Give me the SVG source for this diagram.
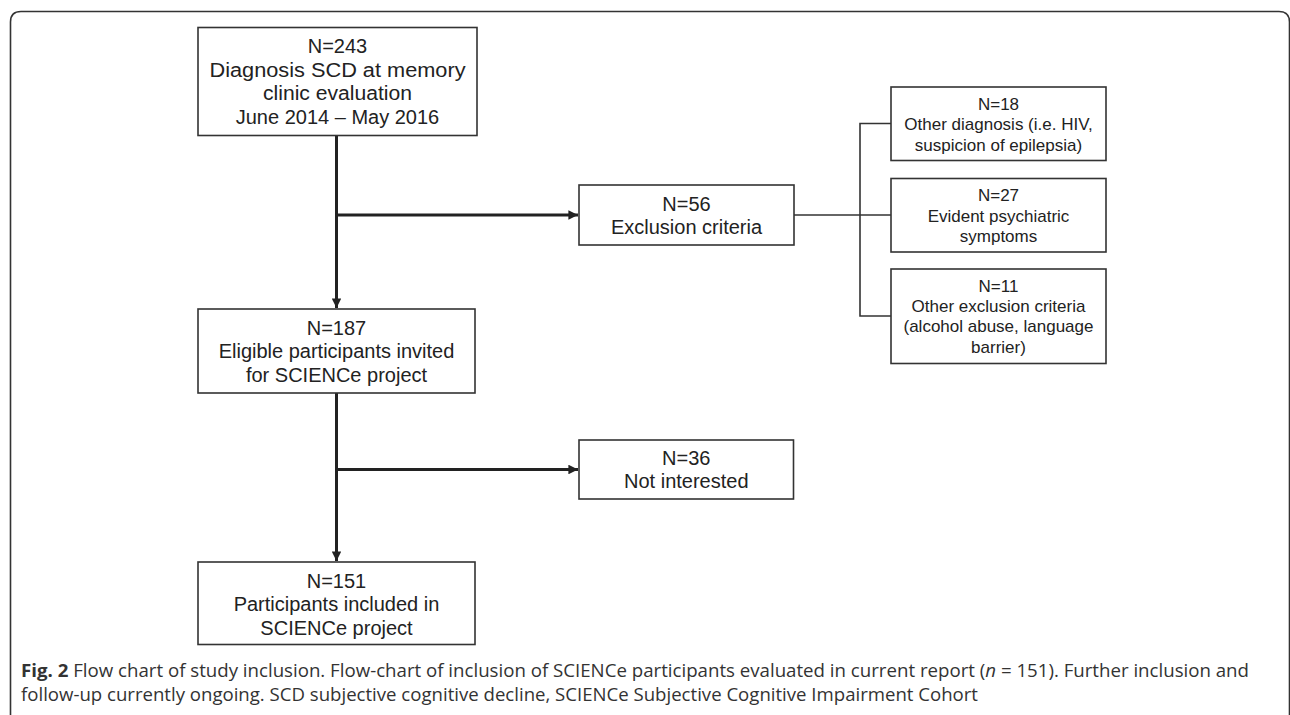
<svg xmlns="http://www.w3.org/2000/svg" width="1290" height="715" viewBox="0 0 1290 715">
<style>
.box{fill:#fff;stroke:#333;stroke-width:1.6}
.t{font-family:"Liberation Sans",Arial,sans-serif;font-size:20px;fill:#222;text-anchor:middle}
.s{font-family:"Liberation Sans",Arial,sans-serif;font-size:17px;fill:#222;text-anchor:middle}
.main{stroke:#222;stroke-width:3;fill:none}
.thin{stroke:#333;stroke-width:1.6;fill:none}
.cap{font-family:"Open Sans","Noto Sans",sans-serif;font-size:18.6px;fill:#333}
</style>
<defs>
<marker id="arr" viewBox="0 0 10 10" refX="10" refY="5" markerWidth="3.2" markerHeight="3.2" orient="auto" markerUnits="strokeWidth">
<path d="M0,0 L10,5 L0,10 z" fill="#222"/>
</marker>
</defs>
<rect width="1290" height="715" fill="#fff"/>
<path d="M10.5,715 V22 Q10.5,11.5 21,11.5 H1279 Q1289.5,11.5 1289.5,22 V715" fill="none" stroke="#333" stroke-width="1.6"/>

<g id="connectors">
<line class="main" x1="336.5" y1="136" x2="336.5" y2="308" marker-end="url(#arr)"/>
<line class="main" x1="336.5" y1="215" x2="578" y2="215" marker-end="url(#arr)"/>
<line class="main" x1="336.5" y1="393" x2="336.5" y2="561" marker-end="url(#arr)"/>
<line class="main" x1="336.5" y1="469.5" x2="578" y2="469.5" marker-end="url(#arr)"/>
<line class="thin" x1="794" y1="215" x2="891" y2="215"/>
<path class="thin" d="M891,123.5 H860 V316 H891"/>
</g>

<g id="n243">
<rect class="box" x="198" y="27.5" width="279" height="108"/>
<text class="t" x="337.5" y="53">N=243</text>
<text class="t" x="337.5" y="77" textLength="256" lengthAdjust="spacingAndGlyphs">Diagnosis SCD at memory</text>
<text class="t" x="337.5" y="100" textLength="149" lengthAdjust="spacingAndGlyphs">clinic evaluation</text>
<text class="t" x="337.5" y="124">June 2014 – May 2016</text>
</g>

<g id="n56">
<rect class="box" x="579" y="185" width="215" height="60"/>
<text class="t" x="686.5" y="210.5">N=56</text>
<text class="t" x="686.5" y="233.5">Exclusion criteria</text>
</g>

<g id="n18">
<rect class="box" x="891" y="87" width="215" height="73.5"/>
<text class="s" x="998.5" y="109.5">N=18</text>
<text class="s" x="998.5" y="130">Other diagnosis (i.e. HIV,</text>
<text class="s" x="998.5" y="150.5">suspicion of epilepsia)</text>
</g>

<g id="n27">
<rect class="box" x="891" y="178.5" width="215" height="73.5"/>
<text class="s" x="998.5" y="201">N=27</text>
<text class="s" x="998.5" y="221.5">Evident psychiatric</text>
<text class="s" x="998.5" y="242">symptoms</text>
</g>

<g id="n11">
<rect class="box" x="891" y="269" width="215" height="94.5"/>
<text class="s" x="998.5" y="291.5">N=11</text>
<text class="s" x="998.5" y="311.8">Other exclusion criteria</text>
<text class="s" x="998.5" y="332">(alcohol abuse, language</text>
<text class="s" x="998.5" y="352.5">barrier)</text>
</g>

<g id="n187">
<rect class="box" x="198" y="309" width="277" height="84"/>
<text class="t" x="336.5" y="334.5">N=187</text>
<text class="t" x="336.5" y="358.3">Eligible participants invited</text>
<text class="t" x="336.5" y="382">for SCIENCe project</text>
</g>

<g id="n36">
<rect class="box" x="579" y="440" width="214.5" height="59"/>
<text class="t" x="686.3" y="465">N=36</text>
<text class="t" x="686.3" y="488">Not interested</text>
</g>

<g id="n151">
<rect class="box" x="198" y="562" width="277" height="82.5"/>
<text class="t" x="336.5" y="587.5">N=151</text>
<text class="t" x="336.5" y="610.5">Participants included in</text>
<text class="t" x="336.5" y="634.5">SCIENCe project</text>
</g>

<g id="caption">
<text class="cap" x="21" y="676.5" textLength="1228" lengthAdjust="spacingAndGlyphs"><tspan font-weight="bold">Fig. 2</tspan> Flow chart of study inclusion. Flow-chart of inclusion of SCIENCe participants evaluated in current report (<tspan font-style="italic">n</tspan> = 151). Further inclusion and</text>
<text class="cap" x="21" y="701" textLength="957" lengthAdjust="spacingAndGlyphs">follow-up currently ongoing. SCD subjective cognitive decline, SCIENCe Subjective Cognitive Impairment Cohort</text>
</g>
</svg>
